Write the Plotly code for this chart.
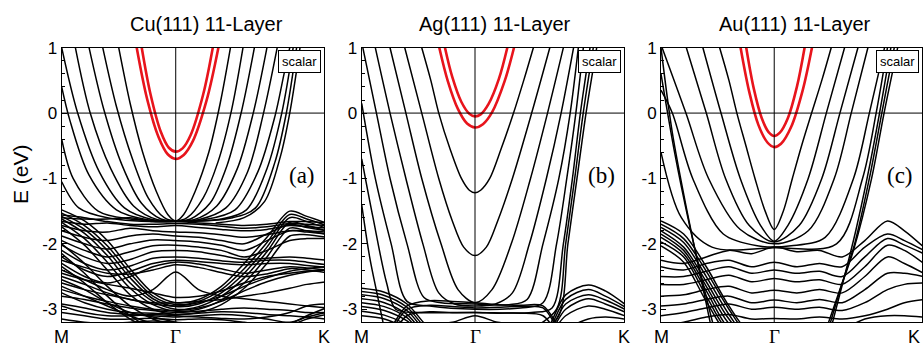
import plotly.graph_objects as go

# ---------------- data ----------------
KD = [-1.0, -0.8, -0.6, -0.4, -0.2, 0.0, 0.2, 0.4, 0.6, 0.8, 1.0, 1.15, 1.32]
X = -3.5  # below the window

E_TICKS = [-3, -2, -1, 0, 1]
E_TICK_TEXT = ["-3", "-2", "-1", "0", "1"]
K_LABELS = ["M", "Γ", "K"]
TITLES = ["Cu(111) 11-Layer", "Ag(111) 11-Layer", "Au(111) 11-Layer"]
TAGS = ["(a)", "(b)", "(c)"]
K_END = [1.303, 1.315, 1.305]

# ---- Cu ----
CU_SP_K = [
    [-0.50, -0.40, -0.29, -0.17, -0.07, 0.0, 0.07, 0.17, 0.29, 0.39, 0.48],
    [-0.64, -0.52, -0.38, -0.24, -0.1, 0.0, 0.1, 0.24, 0.37, 0.49, 0.59],
    [-0.76, -0.63, -0.47, -0.3, -0.13, 0.0, 0.13, 0.3, 0.45, 0.58, 0.69],
    [-0.88, -0.75, -0.57, -0.37, -0.16, 0.0, 0.16, 0.36, 0.54, 0.68, 0.80],
    [-1.0, -0.86, -0.67, -0.45, -0.2, 0.0, 0.2, 0.44, 0.63, 0.77, 0.89],
    [-1.0, -0.93, -0.76, -0.52, -0.25, 0.0, 0.25, 0.52, 0.72, 0.87, 0.95, 1.0],
    [-1.0, -0.9, -0.68, -0.4, 0.0, 0.4, 0.62, 0.8, 0.93, 1.03],
    [-1.0, -0.85, -0.6, 0.0, 0.5, 0.7, 0.87, 0.97, 1.06],
    [0.35, 0.6, 0.78, 0.92, 1.0, 1.09],
]
CU_SP_E = [
    [1.0, 0.15, -0.6, -1.2, -1.55, -1.65, -1.55, -1.2, -0.6, 0.15, 1.0],
    [1.0, 0.1, -0.7, -1.3, -1.6, -1.65, -1.6, -1.3, -0.75, 0.05, 1.0],
    [1.0, 0.05, -0.8, -1.38, -1.62, -1.65, -1.62, -1.38, -0.8, 0.05, 1.0],
    [1.0, 0.0, -0.85, -1.42, -1.63, -1.65, -1.63, -1.42, -0.85, 0.0, 1.0],
    [1.0, 0.0, -0.9, -1.45, -1.63, -1.65, -1.63, -1.45, -0.9, 0.0, 1.0],
    [0.4, -0.1, -0.95, -1.48, -1.63, -1.65, -1.63, -1.48, -0.9, -0.05, 0.6, 1.0],
    [-0.4, -1.0, -1.5, -1.62, -1.65, -1.62, -1.48, -0.85, 0.0, 1.0],
    [-1.05, -1.45, -1.6, -1.66, -1.6, -1.45, -0.75, 0.0, 1.0],
    [-1.68, -1.6, -1.35, -0.65, 0.0, 1.0],
]
CU_SS_K = [
    [-0.342, -0.25, -0.15, -0.07, 0.0, 0.07, 0.15, 0.27, 0.374],
    [-0.298, -0.22, -0.13, -0.06, 0.0, 0.06, 0.13, 0.24, 0.325],
]
CU_SS_E = [
    [1.0, 0.21, -0.37, -0.63, -0.70, -0.64, -0.43, 0.19, 1.0],
    [1.0, 0.28, -0.29, -0.53, -0.59, -0.54, -0.34, 0.28, 1.0],
]
CU_D = [
    [-1.48, -1.65, -1.95, -2.38, -2.75, -2.9, -2.85, -2.65, -2.3, -1.9, -1.5, -1.58, -1.68],
    [-1.53, -1.72, -2.03, -2.45, -2.8, -2.93, -2.88, -2.7, -2.38, -1.98, -1.55, -1.62, -1.72],
    [-1.58, -1.78, -2.1, -2.52, -2.84, -2.96, -2.92, -2.75, -2.45, -2.05, -1.6, -1.66, -1.76],
    [-1.62, -1.84, -2.18, -2.6, -2.88, -3.0, -2.96, -2.8, -2.52, -2.12, -1.67, -1.72, -1.8],
    [-1.67, -1.92, -2.28, -2.68, -2.93, -3.03, -3.0, -2.86, -2.6, -2.2, -1.76, -1.8, -1.85],
    [-1.74, -2.02, -2.4, -2.78, -3.0, -3.08, -3.05, -2.93, -2.68, -2.3, -1.88, -1.86, -1.9],
    [-1.6, -1.62, -1.62, -1.6, -1.66, -1.66, -1.68, -1.7, -1.72, -1.7, -1.66, -1.66, -1.68],
    [-1.66, -1.7, -1.68, -1.72, -1.74, -1.72, -1.75, -1.78, -1.8, -1.78, -1.72, -1.74, -1.76],
    [-1.72, -1.8, -1.82, -1.76, -1.8, -1.82, -1.83, -1.86, -1.9, -1.86, -1.8, -1.8, -1.82],
    [-1.8, -1.9, -1.95, -1.88, -1.85, -1.88, -1.9, -1.95, -2.0, -1.85, -1.7, -1.75, -1.8],
    [-1.88, -2.0, -2.08, -2.0, -1.94, -1.95, -1.97, -2.02, -2.1, -1.95, -1.8, -1.82, -1.85],
    [-1.95, -2.1, -2.2, -2.12, -2.03, -2.02, -2.05, -2.1, -2.2, -2.1, -1.95, -1.92, -1.92],
    [-2.02, -2.2, -2.3, -2.24, -2.12, -2.1, -2.12, -2.18, -2.24, -2.22, -2.2, -2.22, -2.25],
    [-2.1, -2.3, -2.4, -2.34, -2.22, -2.2, -2.22, -2.26, -2.28, -2.25, -2.25, -2.28, -2.32],
    [-2.2, -2.4, -2.5, -2.42, -2.3, -2.25, -2.27, -2.3, -2.32, -2.3, -2.3, -2.33, -2.36],
    [-2.3, -2.5, -2.6, -2.5, -2.35, -2.28, -2.31, -2.38, -2.45, -2.4, -2.35, -2.37, -2.4],
    [-2.4, -2.55, -2.7, -2.8, -2.7, -2.43, -2.7, -2.8, -2.84, -2.88, -2.92, -2.95, -2.98],
    [-2.6, -2.7, -2.78, -2.85, -2.92, -2.95, -2.9, -2.8, -2.65, -2.52, -2.42, -2.38, -2.35],
    [-2.7, -2.8, -2.88, -2.95, -3.0, -3.02, -2.98, -2.88, -2.72, -2.58, -2.48, -2.43, -2.4],
    [-2.8, -2.85, -2.92, -2.98, -3.02, -3.05, -3.03, -3.0, -2.98, -3.0, -3.02, -3.05, -3.05],
    [-2.92, -2.98, -3.05, -3.08, -3.1, -3.12, -3.1, -3.08, -3.1, -3.15, -3.2, -3.12, -3.05],
    [-3.05, -3.1, -3.15, -3.15, -3.14, -3.16, -3.15, -3.16, -3.2, -3.25, -3.22, -3.1, -2.98],
    [-3.15, -3.2, -3.22, -3.2, -3.18, -3.2, -3.22, -3.25, -3.3, -3.3, -3.25, -3.15, -3.08],
    [-2.0, -2.3, -2.65, -2.95, -3.15, -3.25, -3.3, -3.35, -3.4, X, X, X, X],
    [-2.15, -2.45, -2.8, -3.1, -3.3, -3.4, X, X, X, X, X, X, X],
    [-2.35, -2.6, -2.9, -3.15, -3.3, -3.4, X, X, X, X, X, X, X],
    [-2.55, -2.7, -2.9, -3.05, -3.12, -3.2, -3.3, X, X, X, X, X, X],
    [-2.65, -2.8, -2.95, -3.1, -3.22, -3.3, X, X, X, X, X, X, X],
    [-2.45, -2.55, -2.62, -2.68, -2.75, -2.82, -2.8, -2.72, -2.6, -2.5, -2.45, -2.42, -2.4],
    [-2.5, -2.62, -2.75, -2.85, -2.9, -2.9, -2.88, -2.85, -2.8, -2.75, -2.68, -2.62, -2.58],
    [-2.75, -2.9, -3.0, -3.05, -3.06, -3.08, -3.06, -3.04, -3.05, -3.08, -3.1, -3.12, -3.15],
    [-2.95, -3.05, -3.1, -3.1, -3.08, -3.1, -3.12, -3.14, -3.15, -3.12, -3.05, -2.95, -2.92],
    [-1.56, -1.6, -1.66, -1.7, -1.7, -1.69, -1.7, -1.73, -1.76, -1.74, -1.69, -1.7, -1.72],
    [-2.25, -2.36, -2.45, -2.46, -2.4, -2.32, -2.36, -2.44, -2.5, -2.46, -2.38, -2.4, -2.44],
]

# ---- Ag ----
AG_SP_K = [
    [-0.47, -0.39, -0.32, -0.22, -0.12, -0.05, 0.0, 0.05, 0.13, 0.23, 0.34, 0.43, 0.515],
    [-0.62, -0.47, -0.32, -0.2, -0.1, 0.0, 0.1, 0.2, 0.33, 0.5, 0.66],
    [-0.75, -0.61, -0.47, -0.3, -0.15, 0.0, 0.15, 0.32, 0.49, 0.64, 0.78],
    [-0.88, -0.75, -0.61, -0.46, -0.32, -0.18, 0.0, 0.18, 0.33, 0.48, 0.63, 0.76, 0.87],
    [-0.99, -0.87, -0.75, -0.6, -0.45, -0.3, 0.0, 0.3, 0.46, 0.6, 0.74, 0.84, 0.912],
    [-1.0, -0.88, -0.74, -0.6, -0.4, 0.0, 0.4, 0.6, 0.72, 0.81, 0.89, 0.956],
    [-1.0, -0.9, -0.78, -0.7, -0.5, 0.0, 0.5, 0.68, 0.78, 0.86, 0.93, 1.015],
    [0.5, 0.72, 0.8, 0.88, 0.955, 1.044],
    [0.55, 0.74, 0.82, 0.9, 0.98, 1.074],
    [-1.0, -0.93, -0.86, -0.8],
]
AG_SP_E = [
    [1.0, 0.5, 0.0, -0.55, -1.0, -1.18, -1.22, -1.18, -1.0, -0.55, 0.0, 0.5, 1.0],
    [1.0, 0.0, -1.0, -1.65, -2.05, -2.18, -2.05, -1.65, -1.0, 0.0, 1.0],
    [1.0, 0.0, -1.0, -2.0, -2.7, -2.9, -2.7, -2.0, -1.0, 0.0, 1.0],
    [1.0, 0.0, -1.0, -2.0, -2.75, -2.92, -2.95, -2.92, -2.75, -2.0, -1.0, 0.0, 1.0],
    [1.0, 0.0, -1.0, -2.0, -2.82, -2.9, -2.92, -2.93, -2.85, -2.0, -1.0, 0.0, 1.0],
    [0.15, -1.0, -2.0, -2.88, -2.95, -3.0, -2.98, -2.9, -2.0, -1.0, 0.0, 1.0],
    [-0.7, -1.6, -2.6, -3.0, -3.05, -3.05, -3.05, -2.98, -2.0, -1.0, 0.0, 1.0],
    [-3.3, -3.0, -2.0, -1.0, 0.0, 1.0],
    [-3.4, -3.1, -2.0, -1.0, 0.0, 1.0],
    [-1.4, -2.2, -2.8, -3.3],
]
AG_SS_K = [
    [-0.315, -0.24, -0.15, -0.07, 0.0, 0.07, 0.15, 0.26, 0.344],
    [-0.265, -0.2, -0.12, -0.05, 0.0, 0.05, 0.12, 0.21, 0.285],
]
AG_SS_E = [
    [1.0, 0.49, 0.06, -0.16, -0.22, -0.17, 0.01, 0.48, 1.0],
    [1.0, 0.55, 0.17, -0.01, -0.05, -0.02, 0.14, 0.52, 1.0],
]
AG_D = [
    [-2.68, -2.74, -2.92, -3.3, X, X, X, X, X, X, X, X, X],
    [-2.73, -2.79, -2.97, -3.35, X, X, X, X, X, X, X, X, X],
    [-2.78, -2.84, -3.02, -3.4, X, X, X, X, X, X, X, X, X],
    [-2.84, -2.9, -3.08, -3.45, X, X, X, X, X, X, X, X, X],
    [-2.9, -2.96, -3.13, X, X, X, X, X, X, X, X, X, X],
    [-2.96, -3.02, -3.18, X, X, X, X, X, X, X, X, X, X],
    [-3.03, -3.09, -3.24, X, X, X, X, X, X, X, X, X, X],
    [-3.1, -3.15, -3.3, X, X, X, X, X, X, X, X, X, X],
    [X, -3.4, -2.95, -2.87, -2.88, -2.9, -2.93, -2.94, -2.95, -3.4, X, X, X],
    [X, -3.45, -3.0, -2.94, -2.96, -2.98, -2.97, -2.96, -2.98, -3.45, X, X, X],
    [X, X, -3.1, -3.04, -3.05, -3.05, -3.06, -3.06, -3.1, X, X, X, X],
    [X, X, -3.3, -3.24, -3.2, -3.1, -3.2, -3.24, -3.3, X, X, X, X],
    [X, X, X, X, X, X, X, X, -3.4, -2.78, -2.63, -2.72, -2.92],
    [X, X, X, X, X, X, X, X, -3.45, -2.85, -2.7, -2.8, -2.96],
    [X, X, X, X, X, X, X, X, X, -2.92, -2.78, -2.86, -3.0],
    [X, X, X, X, X, X, X, X, X, -3.0, -2.84, -2.92, -3.04],
    [X, X, X, X, X, X, X, X, X, -3.1, -2.95, -3.0, -3.1],
    [X, X, X, X, X, X, X, X, X, -3.3, -3.15, -3.12, -3.15],
]

# ---- Au ----
AU_SP_K = [
    [-0.482, -0.4, -0.33, -0.25, -0.17, -0.08, 0.0, 0.08, 0.16, 0.25, 0.33, 0.42, 0.503],
    [-0.63, -0.47, -0.3, -0.12, 0.0, 0.12, 0.3, 0.46, 0.621],
    [-0.776, -0.6, -0.43, -0.22, 0.0, 0.22, 0.42, 0.58, 0.739],
    [-0.99, -0.78, -0.58, -0.3, 0.0, 0.3, 0.53, 0.68, 0.827],
    [-1.0, -0.9, -0.72, -0.45, -0.15, 0.15, 0.45, 0.7, 0.84, 0.974],
    [-1.0, -0.82, -0.55, 0.0, 0.55, 0.78, 0.9, 1.0],
    [0.5, 0.62, 0.72, 0.82, 0.93, 1.03],
    [0.48, 0.6, 0.71, 0.84, 0.95, 1.06],
    [0.46, 0.58, 0.7, 0.86, 0.97, 1.09],
    [-1.0, -0.9, -0.77, -0.65, -0.56],
    [-1.0, -0.88, -0.75, -0.63, -0.53],
]
AU_SP_E = [
    [1.0, 0.5, 0.0, -0.5, -1.0, -1.5, -1.78, -1.5, -1.0, -0.45, 0.0, 0.5, 1.0],
    [1.0, 0.0, -1.0, -1.72, -1.96, -1.72, -1.0, 0.0, 1.0],
    [1.0, 0.0, -1.0, -1.72, -1.97, -1.72, -1.0, 0.0, 1.0],
    [1.0, 0.0, -1.0, -1.78, -2.0, -1.8, -1.0, 0.0, 1.0],
    [0.35, 0.0, -1.0, -1.85, -2.03, -2.03, -1.9, -1.0, 0.0, 1.0],
    [-0.6, -1.6, -2.05, -2.06, -2.0, -1.0, 0.0, 1.0],
    [-3.3, -2.5, -1.8, -1.0, 0.0, 1.0],
    [-3.3, -2.6, -2.0, -1.0, 0.0, 1.0],
    [-3.3, -2.7, -2.1, -1.0, 0.0, 1.0],
    [1.0, -0.3, -1.5, -2.5, -3.25],
    [0.6, -0.6, -1.7, -2.6, -3.3],
]
AU_SS_K = [
    [-0.297, -0.22, -0.14, -0.06, 0.0, 0.06, 0.15, 0.25, 0.333],
    [-0.247, -0.18, -0.11, -0.05, 0.0, 0.05, 0.12, 0.2, 0.268],
]
AU_SS_E = [
    [1.0, 0.32, -0.18, -0.45, -0.52, -0.47, -0.21, 0.34, 1.0],
    [1.0, 0.37, -0.08, -0.29, -0.35, -0.3, -0.08, 0.4, 1.0],
]
AU_D = [
    [-1.65, -1.85, -2.35, -2.95, -3.4, X, X, X, X, X, X, X, X],
    [-1.7, -1.92, -2.42, -3.0, -3.45, X, X, X, X, X, X, X, X],
    [-1.75, -1.98, -2.5, -3.08, X, X, X, X, X, X, X, X, X],
    [-1.8, -2.05, -2.58, -3.15, X, X, X, X, X, X, X, X, X],
    [-1.85, -2.1, -2.65, -3.22, X, X, X, X, X, X, X, X, X],
    [-1.9, -2.15, -2.72, -3.3, X, X, X, X, X, X, X, X, X],
    [-1.97, -2.2, -2.8, -3.35, X, X, X, X, X, X, X, X, X],
    [-2.03, -2.28, -2.88, -3.4, X, X, X, X, X, X, X, X, X],
    [-2.25, -2.3, -2.2, -2.1, -2.15, -2.05, -2.12, -2.1, -2.2, -1.95, -1.65, -1.8, -2.05],
    [-2.35, -2.4, -2.3, -2.25, -2.35, -2.28, -2.35, -2.3, -2.35, -2.05, -1.85, -1.95, -2.1],
    [-2.5, -2.5, -2.42, -2.35, -2.45, -2.4, -2.45, -2.42, -2.5, -2.2, -1.92, -2.02, -2.15],
    [-2.62, -2.62, -2.55, -2.48, -2.58, -2.53, -2.58, -2.55, -2.62, -2.35, -2.02, -2.1, -2.3],
    [-2.8, -2.78, -2.7, -2.65, -2.75, -2.71, -2.75, -2.7, -2.75, -2.5, -2.2, -2.3, -2.45],
    [-2.95, -2.92, -2.85, -2.8, -2.9, -2.86, -2.9, -2.85, -2.9, -2.7, -2.45, -2.45, -2.5],
    [-3.1, -3.05, -2.98, -2.92, -3.0, -2.97, -3.0, -2.97, -3.02, -2.9, -2.7, -2.62, -2.6],
    [-3.25, -3.2, -3.12, -3.08, -3.15, -3.14, -3.15, -3.12, -3.15, -3.1, -3.0, -2.9, -2.85],
    [X, X, X, X, X, X, X, -3.3, -3.3, -3.15, -3.1, -3.1, -3.12],
]

PANELS = [
    (CU_SP_K, CU_SP_E, CU_SS_K, CU_SS_E, CU_D),
    (AG_SP_K, AG_SP_E, AG_SS_K, AG_SS_E, AG_D),
    (AU_SP_K, AU_SP_E, AU_SS_K, AU_SS_E, AU_D),
]

# ---------------- figure ----------------
W, H = 923, 346
X_DOM = [[61.7 / W, 324.3 / W], [361.7 / W, 624.0 / W], [661.0 / W, 922.0 / W]]
Y_DOM = [1 - 322.3 / H, 1 - 47.7 / H]
BLACK_W = 1.5
RED = "#e8141c"
SANS = "Liberation Sans, Arial, sans-serif"
SERIF = "Liberation Serif, Times New Roman, serif"

fig = go.Figure()
shapes = []
annotations = []
for i, (spk, spe, ssk, sse, dbands) in enumerate(PANELS):
    xa = "x" if i == 0 else f"x{i + 1}"
    ya = "y" if i == 0 else f"y{i + 1}"
    line_kw = dict(color="black", width=BLACK_W, shape="spline", smoothing=0.9)
    for band in dbands:
        fig.add_trace(go.Scatter(x=KD, y=band, mode="lines", line=line_kw,
                                 xaxis=xa, yaxis=ya, hoverinfo="skip", showlegend=False))
    for kk, ee in zip(spk, spe):
        fig.add_trace(go.Scatter(x=kk, y=ee, mode="lines", line=line_kw,
                                 xaxis=xa, yaxis=ya, hoverinfo="skip", showlegend=False))
    for kk, ee in zip(ssk, sse):
        fig.add_trace(go.Scatter(x=kk, y=ee, mode="lines",
                                 line=dict(color=RED, width=2.6, shape="spline", smoothing=1.0),
                                 xaxis=xa, yaxis=ya, hoverinfo="skip", showlegend=False))

    # E = 0 and Gamma lines
    shapes.append(dict(type="line", xref=f"{xa} domain", yref=ya, x0=0, x1=1, y0=0, y1=0,
                       line=dict(color="black", width=1), layer="above"))
    shapes.append(dict(type="line", xref=xa, yref=f"{ya} domain", x0=0, x1=0, y0=0, y1=1,
                       line=dict(color="black", width=1), layer="above"))

    axis_x = dict(domain=X_DOM[i], range=[-1.0, K_END[i]], showgrid=False, zeroline=False,
                  showticklabels=False, ticks="", showline=True, mirror=True,
                  linecolor="black", linewidth=1, anchor=ya, fixedrange=True,
                  automargin=False)
    axis_y = dict(domain=Y_DOM, range=[-3.2, 1.0], showgrid=False, zeroline=False,
                  tickmode="array", tickvals=E_TICKS, ticktext=E_TICK_TEXT,
                  ticks="inside", ticklen=5, tickcolor="black", tickwidth=1,
                  minor=dict(tickmode="linear", tick0=0, dtick=0.2, ticks="inside",
                             ticklen=3, tickcolor="black", tickwidth=1),
                  tickfont=dict(family=SANS, size=17, color="black"),
                  showline=True, mirror=True, linecolor="black", linewidth=1,
                  anchor=xa, fixedrange=True, automargin=False)
    key_x = "xaxis" if i == 0 else f"xaxis{i + 1}"
    key_y = "yaxis" if i == 0 else f"yaxis{i + 1}"
    fig.update_layout({key_x: axis_x, key_y: axis_y})

    # k-point labels
    for j, (lab, kv) in enumerate(zip(K_LABELS, [-1.0, 0.0, K_END[i]])):
        fam = SERIF if lab == "Γ" else SANS
        at_edge = (i == 2 and j == 2)
        annotations.append(dict(text=lab, xref=xa, yref="paper", x=kv, y=1 - 336.5 / H,
                                xanchor="right" if at_edge else "center", yanchor="middle",
                                showarrow=False,
                                font=dict(family=fam, size=19 if lab == "Γ" else 18, color="black")))
    # "scalar" box
    annotations.append(dict(text="scalar", xref=f"{xa} domain", yref=f"{ya} domain",
                            x=1, y=1, xanchor="right", yanchor="top", xshift=-3, yshift=-2,
                            showarrow=False, bgcolor="white", bordercolor="black",
                            borderwidth=1, borderpad=3,
                            font=dict(family=SANS, size=13, color="black")))
    # panel tag
    annotations.append(dict(text=TAGS[i], xref=f"{xa} domain", yref=ya, x=1, y=-0.95,
                            xanchor="right", yanchor="middle", xshift=-7, showarrow=False,
                            font=dict(family=SERIF, size=23, color="black")))

# titles
for t, xp in zip(TITLES, [206, 495, 795]):
    annotations.append(dict(text=t, xref="paper", yref="paper", x=xp / W, y=1 - 24 / H,
                            xanchor="center", yanchor="middle", showarrow=False,
                            font=dict(family=SANS, size=20, color="black")))
# y title
annotations.append(dict(text="E (eV)", xref="paper", yref="paper", x=20 / W, y=1 - 174 / H,
                        xanchor="center", yanchor="middle", textangle=-90, showarrow=False,
                        font=dict(family=SANS, size=21, color="black")))

fig.update_layout(width=W, height=H, margin=dict(l=0, r=0, t=0, b=0, autoexpand=False),
                  paper_bgcolor="white", plot_bgcolor="white",
                  shapes=shapes, annotations=annotations, showlegend=False)

fig.write_html("out.html", config={"displayModeBar": False, "staticPlot": True},
               post_script="document.body.style.margin='0';document.body.style.overflow='hidden';")
